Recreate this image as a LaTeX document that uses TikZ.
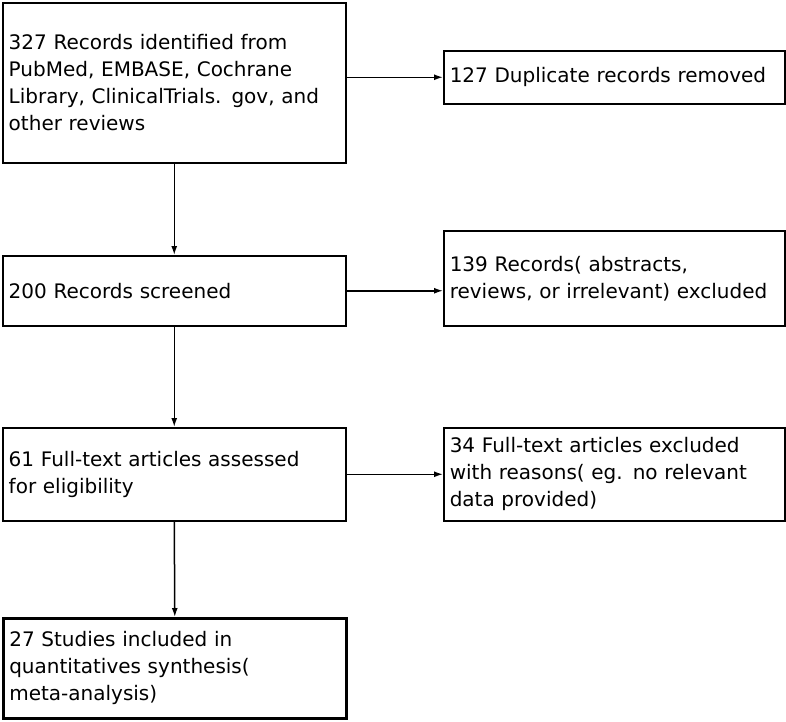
\documentclass[tikz,border=0pt]{standalone}
\usepackage{fontspec}
\setmainfont{DejaVu Sans}
\usetikzlibrary{positioning,arrows.meta}
\begin{document}
\begin{tikzpicture}[x=1pt,y=-1pt,>={Latex[length=9pt,width=6pt]},
  box/.style={draw,line width=1.5pt,anchor=north west,align=left,inner sep=6pt,
    font=\fontsize{20}{27}\selectfont},
  flow/.style={->,line width=1.5pt}]
\useasboundingbox (0,0) rectangle (786,721);
% left column
\node[box,minimum width=343,minimum height=160,text width=331] (rec) at (2,2)
  {327 Records identified from\\PubMed, EMBASE, Cochrane\\Library, ClinicalTrials. gov, and\\other reviews\\[8pt]};
\node[box,minimum width=343,minimum height=70,text width=331] (scr) at (2,255)
  {200 Records screened};
\node[box,minimum width=343,minimum height=93,text width=331] (ful) at (2,427)
  {61 Full-text articles assessed\\for eligibility};
\node[box,line width=2.6pt,minimum width=343,minimum height=100,text width=331] (inc) at (2,617)
  {27 Studies included in\\quantitatives synthesis(\\meta-analysis)};
% right column
\node[box,minimum width=341,minimum height=53,text width=329] (dup) at (443,50)
  {127 Duplicate records removed};
\node[box,minimum width=341,minimum height=95,text width=329] (abs) at (443,230)
  {139 Records( abstracts,\\reviews, or irrelevant) excluded};
\node[box,minimum width=341,minimum height=93,text width=329] (exc) at (443,427)
  {34 Full-text articles excluded\\with reasons( eg. no relevant\\data provided)};
% connectors
\draw[flow] (rec.south) -- (scr.north);
\draw[flow] (scr.south) -- (ful.north);
\draw[flow] (ful.south) -- (inc.north);
\draw[flow] (rec.east |- dup.west) -- (dup.west);
\draw[flow] (scr.east) -- (scr.east -| abs.west);
\draw[flow] (ful.east) -- (exc.west);
\end{tikzpicture}
\end{document}
